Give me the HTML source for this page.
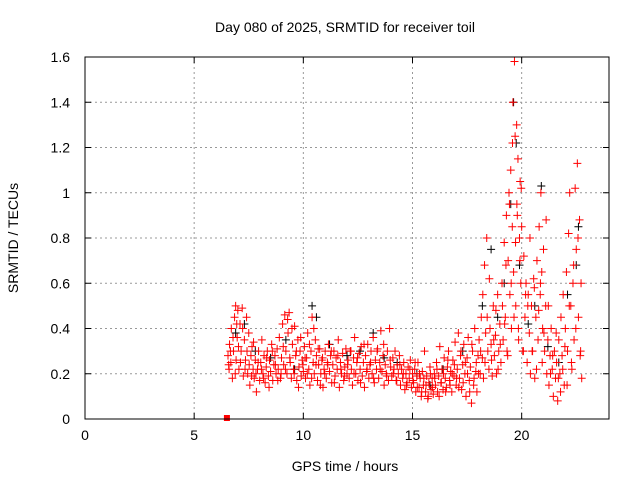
<!DOCTYPE html>
<html><head><meta charset="utf-8"><style>
html,body{margin:0;padding:0;background:#fff;}
svg{display:block;font-family:"Liberation Sans",sans-serif;}
</style></head><body>
<svg id="chart" width="640" height="480" viewBox="0 0 640 480" xmlns="http://www.w3.org/2000/svg">
<rect width="640" height="480" fill="#fff"/>
<text x="345" y="32" text-anchor="middle" font-size="14">Day 080 of 2025, SRMTID for receiver toil</text>
<text x="345" y="471" text-anchor="middle" font-size="14">GPS time / hours</text>
<text transform="translate(18,238) rotate(-90)" text-anchor="middle" font-size="14">SRMTID / TECUs</text>
<g id="grid"></g>
<g id="axes"></g>
<g id="marks"></g>
<rect x="85" y="57" width="524" height="362" fill="none" stroke="#000" stroke-width="1"/>
</svg>
<script>
const xTicks = [0,5,10,15,20];
const yTicks = [0,0.2,0.4,0.6,0.8,1,1.2,1.4,1.6];
const yTickLabels = ["0","0.2","0.4","0.6","0.8","1","1.2","1.4","1.6"];
const redX = [6.55,6.6,6.62,6.68,6.7,6.75,6.8,6.85,6.9,6.92,6.97,7.0,
7.05,7.1,7.15,7.2,7.25,7.3,7.35,7.4,7.45,7.5,7.55,7.6,7.65,7.7,7.75,7.8,7.85,7.9,7.95,8.0,
8.05,8.1,8.15,8.2,8.25,8.3,8.35,8.4,8.45,8.5,8.55,8.6,8.65,8.7,8.75,8.8,8.85,8.9,8.95,9.0,
9.05,9.1,9.15,9.2,9.25,9.3,9.35,9.4,9.45,9.5,9.55,9.6,9.65,9.7,9.75,9.8,9.85,9.9,9.95,10.0,
10.05,10.1,10.15,10.2,10.25,10.3,10.35,10.4,10.45,10.5,10.55,10.6,10.65,10.7,10.75,10.8,10.85,10.9,10.95,11.0,
11.05,11.1,11.15,11.2,11.25,11.3,11.35,11.4,11.45,11.5,11.55,11.6,11.65,11.7,11.75,11.8,11.85,11.9,11.95,12.0,
12.05,12.1,12.15,12.2,12.25,12.3,12.35,12.4,12.45,12.5,12.55,12.6,12.65,12.7,12.75,12.8,12.85,12.9,12.95,13.0,
13.05,13.1,13.15,13.2,13.25,13.3,13.35,13.4,13.45,13.5,13.55,13.6,13.65,13.7,13.75,13.8,13.85,13.9,13.95,14.0,
14.05,14.1,14.15,14.2,14.25,14.3,14.35,14.4,14.45,14.5,14.55,14.6,14.65,14.7,14.75,14.8,14.85,14.9,14.95,15.0,
15.05,15.1,15.15,15.2,15.25,15.3,15.35,15.4,15.45,15.5,15.55,15.6,15.65,15.7,15.75,15.8,15.85,15.9,15.95,16.0,
16.05,16.1,16.15,16.2,16.25,16.3,16.35,16.4,16.45,16.5,16.55,16.6,16.65,16.7,16.75,16.8,16.85,16.9,16.95,17.0,
17.05,17.1,17.15,17.2,17.25,17.3,17.35,17.4,17.45,17.5,17.55,17.6,17.65,17.7,17.75,17.8,17.85,17.9,17.95,18.0,
18.05,18.1,18.15,18.2,18.25,18.3,18.35,18.4,18.45,18.5,18.55,18.6,18.65,18.7,18.75,18.8,18.85,18.9,18.95,19.0,
19.05,19.1,19.15,19.2,19.25,19.3,19.33,19.38,19.42,19.46,19.5,19.53,19.57,19.6,19.63,19.67,19.7,19.73,19.77,19.8,19.83,19.86,19.9,19.93,19.96,20.0,
20.05,20.1,20.15,20.2,20.25,20.3,20.35,20.4,20.45,20.5,20.55,20.6,20.65,20.7,20.75,20.8,20.85,20.88,20.92,20.96,21.0,
21.05,21.1,21.15,21.2,21.25,21.3,21.35,21.4,21.45,21.5,
21.55,21.6,21.65,21.7,21.75,21.8,21.85,21.9,21.95,22.0,22.05,22.1,22.15,22.2,22.25,22.3,22.35,22.4,22.45,22.5,22.55,22.6,22.65,22.7,22.72,22.75];
const redY = [.28,.22,.33,.25,.4,.18,.3,.45,.5,.26,.36,.48,
.22,.42,.3,.49,.19,.35,.26,.45,.2,.38,.15,.28,.32,.22,.18,.26,.12,.22,.3,.17,
.25,.35,.2,.28,.16,.23,.3,.19,.26,.21,.33,.17,.24,.28,.2,.31,.22,.36,.18,.27,
.42,.24,.46,.3,.2,.38,.47,.25,.18,.33,.22,.41,.28,.17,.35,.23,.3,.19,.26,.21,
.32,.18,.27,.38,.22,.15,.3,.45,.25,.2,.35,.28,.17,.24,.31,.2,.26,.14,.22,.3,
.18,.25,.33,.21,.28,.16,.24,.3,.19,.27,.22,.35,.14,.25,.2,.29,.17,.23,.31,.2,
.26,.18,.3,.22,.15,.27,.36,.2,.25,.17,.29,.22,.32,.19,.25,.14,.28,.21,.33,.18,
.24,.3,.2,.36,.16,.26,.22,.31,.18,.25,.39,.21,.28,.15,.24,.2,.3,.17,.4,.23,
.19,.27,.22,.3,.17,.24,.2,.28,.15,.22,.18,.25,.13,.2,.16,.23,.18,.26,.14,.2,
.16,.22,.12,.19,.25,.14,.18,.1,.21,.15,.3,.12,.19,.09,.16,.23,.13,.18,.11,.2,
.15,.25,.12,.19,.32,.16,.22,.13,.27,.18,.14,.23,.3,.17,.21,.12,.26,.19,.34,.15,
.22,.38,.18,.28,.13,.24,.33,.2,.1,.27,.36,.17,.23,.07,.3,.15,.4,.21,.12,.28,
.35,.2,.45,.27,.18,.68,.38,.8,.3,.22,.4,.33,.19,.5,.28,.37,.2,.55,.3,.42,
.25,.6,.35,.78,.45,.9,.3,.7,1.0,.55,1.1,.4,.85,1.4,.65,1.58,1.25,.5,1.3,.9,1.15,.35,.8,1.05,.6,.85,
.3,.72,.45,.6,.25,.55,.38,.2,.5,.3,.62,.18,.45,.7,.35,.85,.55,1.0,.65,.4,.75,
.3,.5,.2,.35,.15,.28,.4,.22,.1,.3,
.18,.25,.08,.35,.2,.45,.28,.55,.15,.4,.65,.3,.82,1.0,.5,.22,.6,.35,1.02,.75,1.13,.45,.88,.3,.6,.18];
const red2X = [6.58,6.66,6.78,6.88,6.95,7.03,7.12,7.22,7.33,7.42,7.52,7.63,7.72,7.83,7.93,8.08,8.18,8.32,8.43,8.58,8.72,8.83,8.98,9.08,9.18,9.28,9.38,9.48,9.58,9.68,9.78,9.88,9.98,10.08,10.18,10.28,10.38,10.48,10.58,10.68,10.78,10.88,10.98,11.12,11.28,11.42,11.58,11.72,11.88,12.02,12.18,12.32,12.48,12.62,12.78,12.92,13.08,13.22,13.38,13.52,13.68,13.82,13.98,14.12,14.28,14.42,14.58,14.72,14.88,15.02,15.12,15.22,15.32,15.42,15.52,15.62,15.72,15.82,15.92,16.02,16.12,16.22,16.32,16.42,16.52,16.62,16.72,16.82,16.92,17.02,17.12,17.22,17.32,17.42,17.52,17.62,17.72,17.82,17.92,18.02,18.12,18.22,18.32,18.42,18.52,18.62,18.72,18.82,18.92,19.02,19.12,19.22,19.28,19.36,19.44,19.52,19.58,19.65,19.72,19.78,19.85,19.92,19.98,20.08,20.18,20.28,20.38,20.48,20.58,20.68,20.78,20.86,20.94,21.02,21.12,21.22,21.32,21.42,21.58,21.68,21.78,21.88,21.98,22.08,22.18,22.28,22.38,22.48,22.58,22.68];
const red2Y = [.24,.3,.36,.2,.42,.32,.25,.4,.22,.3,.24,.19,.34,.2,.25,.22,.18,.27,.14,.3,.24,.17,.2,.32,.22,.44,.27,.4,.2,.3,.14,.36,.24,.27,.2,.33,.18,.4,.24,.31,.15,.27,.2,.24,.3,.16,.28,.22,.19,.24,.3,.2,.27,.16,.33,.22,.25,.18,.3,.22,.33,.19,.26,.2,.17,.24,.2,.15,.22,.17,.25,.14,.2,.12,.18,.15,.1,.2,.14,.18,.22,.1,.16,.2,.12,.26,.15,.2,.24,.18,.14,.3,.16,.25,.2,.12,.33,.18,.25,.2,.3,.55,.25,.45,.62,.26,.35,.48,.22,.33,.5,.42,.68,.28,.95,.6,1.22,.45,.78,.95,.4,.7,1.02,.3,.55,.5,.8,.3,.58,.22,.48,.6,.25,.38,.88,.5,.2,.28,.38,.18,.12,.22,.32,.15,.5,.25,.68,.4,.8,.28,.55,.95,.38,.62];
const blackX = [6.9,7.3,7.8,8.5,9.2,9.6,10.4,10.6,11.2,12.0,12.6,13.2,13.7,14.3,15.2,15.8,16.4,17.3,18.2,18.6,18.9,19.2,19.5,19.63,19.75,19.9,20.3,20.6,20.9,21.2,21.7,22.1,22.5,22.6];
const blackY = [.38,.42,.3,.27,.35,.22,.5,.45,.33,.28,.3,.38,.27,.25,.2,.15,.22,.3,.5,.75,.45,.6,.95,1.4,1.22,.68,.42,.5,1.03,.32,.25,.55,.68,.85];
const zeroX = [6.5];
const zeroY = [0];

const NS="http://www.w3.org/2000/svg";
const L=85,R=609,T=57,B=419;
function sx(v){return L+(v/24)*(R-L);}
function sy(v){return B-(v/1.6)*(B-T);}
function mk(tag,attrs,parent){const e=document.createElementNS(NS,tag);for(const k in attrs)e.setAttribute(k,attrs[k]);parent.appendChild(e);return e;}
const grid=document.getElementById('grid'),axes=document.getElementById('axes'),marks=document.getElementById('marks');
xTicks.forEach(t=>{
  const x=sx(t);
  if(t>0){const g=mk('line',{x1:x,y1:T,x2:x,y2:B,stroke:'#999','stroke-dasharray':'2,3'},grid);
  
  }
  const a=mk('line',{x1:x,y1:B,x2:x,y2:B-6,stroke:'#000'},axes);
  
  
  const b=mk('line',{x1:x,y1:T,x2:x,y2:T+6,stroke:'#000'},axes);
  
  
  const tx=mk('text',{x:x,y:B+21,'text-anchor':'middle','font-size':'14'},axes);
  tx.textContent=String(t);
  
  
});
yTicks.forEach((t,i)=>{
  const y=sy(t);
  if(t>0&&t<1.6){const g=mk('line',{x1:L,y1:y,x2:R,y2:y,stroke:'#999','stroke-dasharray':'2,3'},grid);
  
  }
  const a=mk('line',{x1:L,y1:y,x2:L+6,y2:y,stroke:'#000'},axes);
  
  
  const b=mk('line',{x1:R,y1:y,x2:R-6,y2:y,stroke:'#000'},axes);
  
  
  const tx=mk('text',{x:L-15,y:y+5,'text-anchor':'end','font-size':'14'},axes);
  tx.textContent=yTickLabels[i];
  
  
});
function plus(xs,ys,color,name){
  let d='';
  for(let i=0;i<xs.length;i++){const x=sx(xs[i]),y=sy(ys[i]);d+='M'+(x-4)+' '+y+'h8M'+x+' '+(y-4)+'v8';}
  const p=mk('path',{d:d,stroke:color,'stroke-width':'1',fill:'none'},marks);
  
  
}
plus(blackX,blackY,'#000','black-points');
plus(redX,redY,'#f00','red-points');
plus(red2X,red2Y,'#f00','red-points-2');
zeroX.forEach((v,i)=>{
  const r=mk('rect',{x:sx(v)-3,y:sy(zeroY[i])-4,width:6,height:6,fill:'#f00'},marks);
  
  
});
</script>
</body></html>
